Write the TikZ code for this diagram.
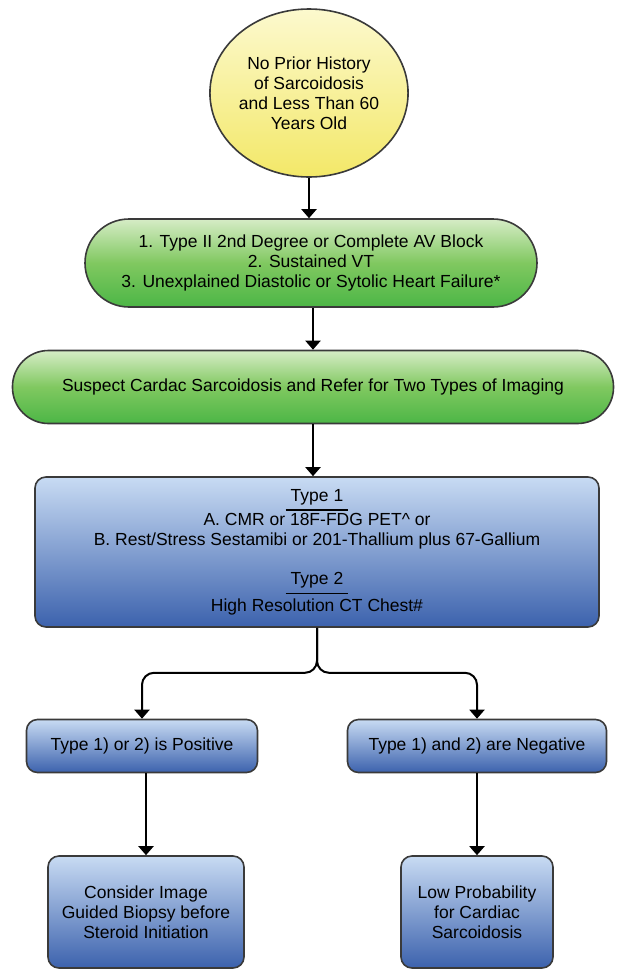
\documentclass[tikz,border=0pt]{standalone}
\usepackage{fontspec}
\setmainfont{Liberation Sans}
\usepackage{tikz}
\usetikzlibrary{shapes.geometric, arrows.meta}
\definecolor{yellowtop}{RGB}{252,249,206}
\definecolor{yellowbot}{RGB}{243,232,104}
\definecolor{greentop}{RGB}{214,236,198}
\definecolor{greenmid}{RGB}{128,200,96}
\definecolor{greenbot}{RGB}{76,182,70}
\definecolor{bluetop}{RGB}{200,219,243}
\definecolor{bluebot}{RGB}{60,98,173}
\definecolor{boxgray}{RGB}{58,58,58}
\newcommand{\typehead}[1]{\vtop{\hbox{\kern5pt#1\kern5pt}\kern4pt\hrule height 1.8pt}}
\tikzset{%
  every stage/.style={
    draw=boxgray,
    line width=1.6pt,
    align=center,
    inner sep=0pt,
    font=\fontsize{17.5}{20}\selectfont
  },
  stage yellow/.style={
    ellipse,
    top color=yellowtop,
    bottom color=yellowbot
  },
  stage green/.style={
    top color=greentop,
    bottom color=greenbot,
    middle color=greenmid
  },
  stage blue/.style={
    rounded corners=11pt,
    top color=bluetop,
    bottom color=bluebot
  },
}

\begin{document}
\begin{tikzpicture}[x=1pt, y=-1pt, >={Triangle[width=15pt,length=9pt]}, line width=2pt]
        \useasboundingbox (0,0) rectangle (617,970);

        % stages
        \node [every stage/.try, stage yellow/.try, minimum width=166pt, minimum height=168pt]
        (start) at (309,93) {No Prior History\\of Sarcoidosis\\and Less Than 60\\Years Old};

        \node [every stage/.try, stage green/.try, rounded corners=44pt, minimum width=452pt, minimum height=88pt]
        (signs) at (311,263) {1. Type II 2nd Degree or Complete AV Block\\2. Sustained VT\\3. Unexplained Diastolic or Sytolic Heart Failure*};

        \node [every stage/.try, stage green/.try, rounded corners=36pt, minimum width=601pt, minimum height=73pt]
        (suspect) at (313,387) {Suspect Cardac Sarcoidosis and Refer for Two Types of Imaging};

        \node [every stage/.try, stage blue/.try, minimum width=564pt, minimum height=150pt]
        (imaging) at (317,552) {\typehead{Type 1}\\[2pt]
          A. CMR or 18F-FDG PET\textasciicircum{} or\\
          B. Rest/Stress Sestamibi or 201-Thallium plus 67-Gallium\\[19pt]
          \typehead{Type 2}\\[3pt]
          High Resolution CT Chest\#};

        \node [every stage/.try, stage blue/.try, minimum width=231pt, minimum height=53pt]
        (result-pos) at (142,746) {Type 1) or 2) is Positive};

        \node [every stage/.try, stage blue/.try, minimum width=259pt, minimum height=53pt]
        (result-neg) at (477,746) {Type 1) and 2) are Negative};

        \node [every stage/.try, stage blue/.try, minimum width=196pt, minimum height=112pt]
        (action-pos) at (146,912) {Consider Image\\Guided Biopsy before\\Steroid Initiation};

        \node [every stage/.try, stage blue/.try, minimum width=152pt, minimum height=112pt]
        (action-neg) at (477,912) {Low Probability\\for Cardiac\\Sarcoidosis};

        % arrows
        \draw [->] (start.south) -- (start.south |- signs.north);
        \draw [->] (signs.south -| suspect.north) -- (suspect.north);
        \draw [->] (suspect.south) -- (suspect.south |- imaging.north);

        \foreach \r in {pos,neg}
        \draw [->, rounded corners=12pt] (imaging.south) -- ++(0,45) -| (result-\r.north);

        \foreach \r in {pos,neg}
        \draw [->] (action-\r.north |- result-\r.south) -- (action-\r.north);

    \end{tikzpicture}
\end{document}
